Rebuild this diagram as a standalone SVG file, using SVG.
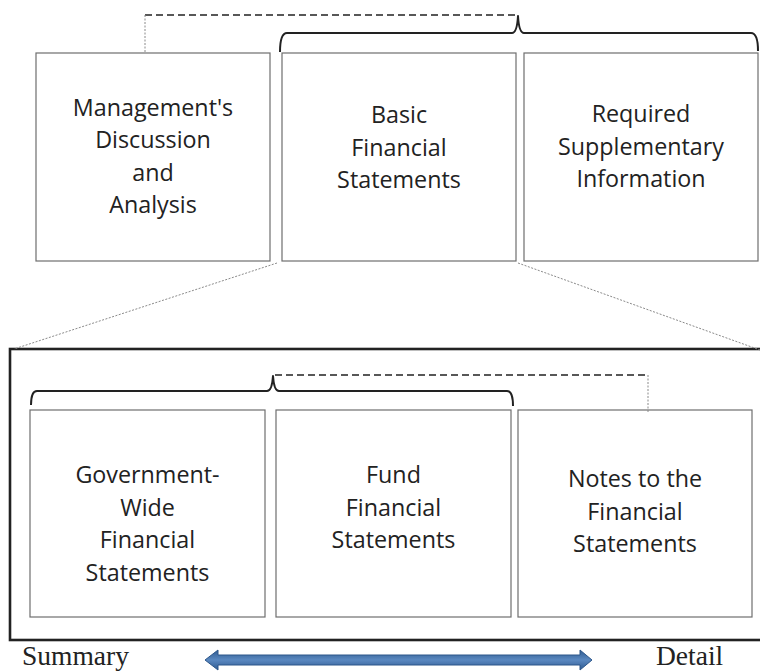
<svg xmlns="http://www.w3.org/2000/svg" width="760" height="672" viewBox="0 0 760 672">
  <defs>
    <style>
      .box { fill: #ffffff; stroke: #6e6e6e; stroke-width: 1.2; }
      .frame { fill: none; stroke: #222222; stroke-width: 2.6; }
      .label { font-family: "Open Sans", "Noto Sans", sans-serif; font-size: 23.3px; fill: #222222; text-anchor: middle; }
      .scale { font-family: "Liberation Serif", "Times New Roman", serif; font-size: 27.5px; fill: #222222; }
      .brace { fill: none; stroke: #222222; stroke-width: 2; stroke-linejoin: round; }
      .dash { fill: none; stroke: #222222; stroke-width: 1.4; stroke-dasharray: 7 4; }
      .dot { fill: none; stroke: #8a8a8a; stroke-width: 1; stroke-dasharray: 2 1.5; }
    </style>
    <linearGradient id="shaftGrad" x1="0" y1="0" x2="0" y2="1">
      <stop offset="0" stop-color="#2f5b91"/>
      <stop offset="0.5" stop-color="#5a88c0"/>
      <stop offset="1" stop-color="#2f5b91"/>
    </linearGradient>
  </defs>

  <rect width="760" height="672" fill="#ffffff"/>

  <!-- enclosing frame of the basic financial statements detail -->
  <rect id="detail-frame" class="frame" x="10" y="349" width="770" height="291"/>

  <!-- top row -->
  <g id="mdna">
    <rect class="box" x="36" y="53" width="234" height="208"/>
    <text class="label" x="153" y="115.5">Management's</text>
    <text class="label" x="153" y="148">Discussion</text>
    <text class="label" x="153" y="180.5">and</text>
    <text class="label" x="153" y="213">Analysis</text>
  </g>
  <g id="basic-fs">
    <rect class="box" x="282" y="53" width="234" height="208"/>
    <text class="label" x="399" y="123">Basic</text>
    <text class="label" x="399" y="155.5">Financial</text>
    <text class="label" x="399" y="188">Statements</text>
  </g>
  <g id="rsi">
    <rect class="box" x="524" y="53" width="234" height="208"/>
    <text class="label" x="641" y="122">Required</text>
    <text class="label" x="641" y="154.5">Supplementary</text>
    <text class="label" x="641" y="187">Information</text>
  </g>

  <!-- bottom row -->
  <g id="gov-wide">
    <rect class="box" x="30" y="410" width="235" height="207"/>
    <text class="label" x="147.5" y="483">Government-</text>
    <text class="label" x="147.5" y="515.5">Wide</text>
    <text class="label" x="147.5" y="548">Financial</text>
    <text class="label" x="147.5" y="580.5">Statements</text>
  </g>
  <g id="fund-fs">
    <rect class="box" x="276" y="410" width="235" height="207"/>
    <text class="label" x="393.5" y="483">Fund</text>
    <text class="label" x="393.5" y="515.5">Financial</text>
    <text class="label" x="393.5" y="548">Statements</text>
  </g>
  <g id="notes">
    <rect class="box" x="518" y="410" width="234" height="207"/>
    <text class="label" x="635" y="487">Notes to the</text>
    <text class="label" x="635" y="519.5">Financial</text>
    <text class="label" x="635" y="552">Statements</text>
  </g>

  <!-- connectors -->
  <g id="connectors">
    <!-- brace over basic statements + RSI, with dashed link to MD&A -->
    <path class="brace" d="M280,52 Q280,33 287,33 L512,33 Q517,33 518,16 Q519,33 524,33 L751,33 Q758,33 758,51"/>
    <path class="dash" d="M145,15 L518,15"/>
    <path class="dot" d="M145,15 L145,53"/>

    <!-- brace over government-wide + fund statements, with dashed link to notes -->
    <path class="brace" d="M31,405 Q31,391 37,391 L267,391 Q272,391 273,376 Q274,391 279,391 L507,391 Q513,391 513,406"/>
    <path class="dash" d="M275,375 L648,375"/>
    <path class="dot" d="M648,375 L648,413"/>

    <!-- zoom lines from basic statements down to the detail frame -->
    <path class="dot" d="M277,263 L14,349"/>
    <path class="dot" d="M518,263 L760,350"/>
  </g>

  <!-- summary / detail scale -->
  <g id="scale">
    <text class="scale" x="22" y="665">Summary</text>
    <text class="scale" x="656" y="665">Detail</text>
    <polygon points="205,660 218,650 218,655 580,655 580,650 592,660 580,670 580,665 218,665 218,670" fill="url(#shaftGrad)" stroke="#2c568a" stroke-width="1"/>
  </g>
</svg>
